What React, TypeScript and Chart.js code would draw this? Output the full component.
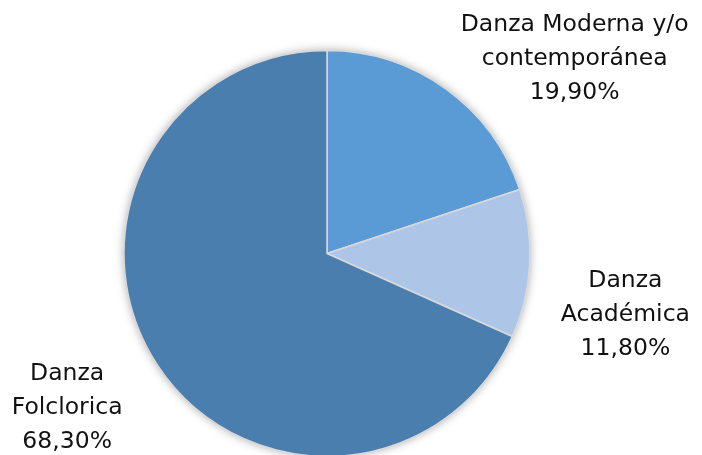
import React, { useEffect, useRef } from "react";
import { Chart, registerables } from "chart.js";

Chart.register(...registerables);

const categories = ["Danza Moderna y/o contemporánea", "Danza Académica", "Danza Folclorica"];
const values = [19.9, 11.8, 68.3];
const valueLabels = ["19,90%", "11,80%", "68,30%"];
const labelLines = [
  ["Danza Moderna y/o", "contemporánea"],
  ["Danza", "Académica"],
  ["Danza", "Folclorica"],
];
const colors = ["#5B9BD5", "#ADC6E7", "#4A7EAF"];

// label anchor, relative to pie centre in units of radius
const labelAnchors = [
  { x: 1.22, y: -0.96 },
  { x: 1.47, y: 0.3 },
  { x: -1.28, y: 0.76 },
];

const labelPlugin = {
  id: "outLabels",
  beforeDatasetsDraw(chart: any) {
    const meta = chart.getDatasetMeta(0);
    const arc = meta.data[0];
    if (!arc) return;
    const ctx = chart.ctx;
    ctx.save();
    ctx.beginPath();
    ctx.arc(arc.x, arc.y, arc.outerRadius, 0, Math.PI * 2);
    ctx.shadowColor = "rgba(0,0,0,0.35)";
    ctx.shadowBlur = 10;
    ctx.fillStyle = "#ffffff";
    ctx.fill();
    ctx.restore();
  },
  afterDatasetsDraw(chart: any) {
    const meta = chart.getDatasetMeta(0);
    const ctx = chart.ctx;
    const lineH = 34;
    ctx.save();
    ctx.font = "23.5px 'DejaVu Sans', Verdana, sans-serif";
    ctx.fillStyle = "#111111";
    ctx.textAlign = "center";
    ctx.textBaseline = "middle";
    meta.data.forEach((a: any, i: number) => {
      const cx = a.x + labelAnchors[i].x * a.outerRadius;
      const cy = a.y + labelAnchors[i].y * a.outerRadius;
      const lines = [...labelLines[i], valueLabels[i]];
      const top = cy - ((lines.length - 1) * lineH) / 2;
      lines.forEach((t, k) => ctx.fillText(t, cx, top + k * lineH));
    });
    ctx.restore();
  },
};

export default function App() {
  const ref = useRef<HTMLCanvasElement>(null);
  useEffect(() => {
    document.body.style.margin = "0";
    const chart = new Chart(ref.current!, {
      type: "pie",
      data: {
        labels: categories,
        datasets: [
          {
            data: values,
            backgroundColor: colors,
            borderColor: "#D9D9D9",
            borderWidth: 1.5,
            radius: 203,
          },
        ],
      },
      options: {
        responsive: false,
        animation: false,
        layout: { padding: { left: 0, right: 48, top: 52, bottom: 0 } },
        plugins: { legend: { display: false }, tooltip: { enabled: false } },
      },
      plugins: [labelPlugin],
    });
    return () => chart.destroy();
  }, []);
  return (
    <div style={{ width: 702, height: 455, background: "#fff" }}>
      <canvas ref={ref} width={702} height={455} />
    </div>
  );
}
